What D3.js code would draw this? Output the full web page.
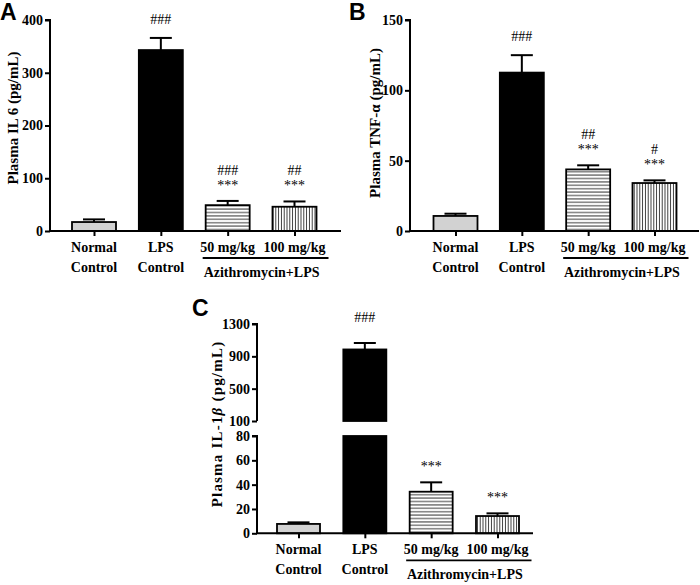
<!DOCTYPE html>
<html><head><meta charset="utf-8">
<script src="https://cdn.jsdelivr.net/npm/d3@7"></script>
<style>
body{margin:0;background:#fff;}
svg{display:block;}
text{font-family:"Liberation Serif","Times New Roman",serif;font-weight:bold;fill:#000;}
.letter{font-family:"Liberation Sans",Arial,sans-serif;font-weight:bold;font-size:23px;}
</style></head>
<body>
<script>
// ---- data ----
const categories = ["Normal Control", "LPS Control", "50 mg/kg", "100 mg/kg"];
const catLines = [["Normal", "Control"], ["LPS", "Control"], ["50 mg/kg"], ["100 mg/kg"]];
const groupLabel = "Azithromycin+LPS";
const fills = ["gray", "black", "hlines", "vlines"];

const il6Values = [17, 343, 49, 46];
const il6Errors = [5, 23, 8, 10];
const il6Ticks = [0, 100, 200, 300, 400];
const il6Hash = ["", "###", "###", "##"];
const il6Stars = ["", "", "***", "***"];

const tnfValues = [10.7, 112.6, 43.8, 34.1];
const tnfErrors = [1.6, 12.4, 2.9, 1.9];
const tnfTicks = [0, 50, 100, 150];
const tnfHash = ["", "###", "##", "#"];
const tnfStars = ["", "", "***", "***"];

const il1bValues = [7.7, 985, 34.2, 14.2];
const il1bErrors = [1.3, 80, 7.7, 2.2];
const il1bTicksLow = [0, 20, 40, 60, 80];
const il1bTicksHigh = [100, 500, 900, 1300];
const il1bHash = ["", "###", "", ""];
const il1bStars = ["", "", "***", "***"];

const svg = d3.select("body").append("svg").attr("width", 700).attr("height", 585);
const defs = svg.append("defs");
const ph = defs.append("pattern").attr("id", "hlines").attr("patternUnits", "userSpaceOnUse")
  .attr("width", 8).attr("height", 3.4);
ph.append("rect").attr("width", 8).attr("height", 3.4).attr("fill", "#fff");
ph.append("line").attr("x1", 0).attr("x2", 8).attr("y1", 1.7).attr("y2", 1.7).attr("stroke", "#222").attr("stroke-width", 0.9);
const pv = defs.append("pattern").attr("id", "vlines").attr("patternUnits", "userSpaceOnUse")
  .attr("width", 2.8).attr("height", 8);
pv.append("rect").attr("width", 2.8).attr("height", 8).attr("fill", "#fff");
pv.append("line").attr("y1", 0).attr("y2", 8).attr("x1", 1.4).attr("x2", 1.4).attr("stroke", "#222").attr("stroke-width", 0.9);

function fillOf(k) {
  if (k === "gray") return "#d2d2d2";
  if (k === "black") return "#000";
  return "url(#" + k + ")";
}

function drawPanel(cfg) {
  const g = svg.append("g");
  const x = d3.scalePoint().domain(categories).range(cfg.xr);
  const bw = cfg.bw;
  cfg.segments.forEach(seg => {
    const ax = d3.axisLeft(seg.y).tickValues(seg.ticks).tickSize(5).tickPadding(2).tickFormat(d3.format("d"));
    const a = g.append("g").attr("transform", `translate(${cfg.ax},0)`).call(ax);
    a.select(".domain").attr("stroke-width", 2).attr("d", `M-5,${seg.y.range()[1]}H0V${seg.y.range()[0]}`);
    a.selectAll(".tick line").attr("stroke-width", 2);
    a.selectAll("text").style("font-size", "14px").style("font-family", "Liberation Serif").style("font-weight", "bold");
  });
  const y0 = cfg.segments[0].y(0);
  categories.forEach((c, i) => {
    const v = cfg.values[i];
    const cx = x(c);
    const segs = cfg.segments.filter(s => v > s.y.domain()[0]);
    let topY = null;
    segs.forEach(s => {
      const d = s.y.domain();
      const lo = d[0], hi = Math.min(v, d[1]);
      const yt = s.y(hi), yb = s.y(lo);
      g.append("rect").attr("x", cx - bw / 2).attr("y", yt).attr("width", bw).attr("height", yb - yt)
        .attr("fill", fillOf(fills[i])).attr("stroke", "#000").attr("stroke-width", 1.8);
      if (v <= d[1]) topY = s;
    });
    const sy = topY.y;
    const e = v + cfg.errors[i];
    g.append("line").attr("x1", cx).attr("x2", cx).attr("y1", sy(v)).attr("y2", sy(e)).attr("stroke", "#000").attr("stroke-width", 2);
    g.append("line").attr("x1", cx - 11).attr("x2", cx + 11).attr("y1", sy(e)).attr("y2", sy(e)).attr("stroke", "#000").attr("stroke-width", 2);
    const ey = sy(e);
    if (cfg.stars[i]) {
      g.append("text").attr("x", cx).attr("y", ey - 11).attr("text-anchor", "middle").style("font-size", "14px").style("font-weight", "normal").text(cfg.stars[i]);
      if (cfg.hash[i]) g.append("text").attr("x", cx).attr("y", ey - 26).attr("text-anchor", "middle").style("font-size", "14px").style("font-weight", "normal").text(cfg.hash[i]);
    } else if (cfg.hash[i]) {
      g.append("text").attr("x", cx).attr("y", ey - 14 - (cfg.hashExtra || 0)).attr("text-anchor", "middle").style("font-size", "14px").style("font-weight", "normal").text(cfg.hash[i]);
    }
  });
  const xa = d3.axisBottom(x).tickSize(5).tickFormat("");
  const xg = g.append("g").attr("transform", `translate(0,${y0})`).call(xa);
  xg.select(".domain").attr("stroke-width", 2).attr("d", `M${cfg.ax - 1},0H${cfg.xend}`);
  xg.selectAll(".tick line").attr("stroke-width", 2);
  categories.forEach((c, i) => {
    catLines[i].forEach((t, j) => {
      g.append("text").attr("x", x(c)).attr("y", y0 + 21 + j * 20).attr("text-anchor", "middle")
        .style("font-size", "14px").text(t);
    });
  });
  const lx1 = x(categories[2]) - 25, lx2 = x(categories[3]) + 34;
  g.append("line").attr("x1", lx1).attr("x2", lx2).attr("y1", y0 + 27).attr("y2", y0 + 27).attr("stroke", "#000").attr("stroke-width", 1.8);
  g.append("text").attr("x", (lx1 + lx2) / 2 - 4).attr("y", y0 + 46).attr("text-anchor", "middle").style("font-size", "14px").text(groupLabel);
  const yl = g.append("text").attr("transform", `translate(${cfg.ylx},${cfg.yly}) rotate(-90)`).attr("text-anchor", "middle")
    .style("font-size", "15px").style("letter-spacing", (cfg.ls || 0) + "px");
  cfg.ylabel(yl);
  g.append("text").attr("class", "letter").attr("x", cfg.lx).attr("y", cfg.ly).text(cfg.letter);
}

drawPanel({
  letter: "A", lx: 0, ly: 20,
  ax: 50, xend: 341, xr: [94, 294.5], bw: 44,
  segments: [{ y: d3.scaleLinear().domain([0, 400]).range([231, 20]), ticks: il6Ticks }],
  values: il6Values, errors: il6Errors, hash: il6Hash, stars: il6Stars,
  ylx: 18, yly: 118,
  ylabel: t => t.text("Plasma IL 6 (pg/mL)")
});
drawPanel({
  letter: "B", lx: 349, ly: 20,
  ax: 410, xend: 699, xr: [455.5, 654.5], bw: 44,
  segments: [{ y: d3.scaleLinear().domain([0, 150]).range([231, 20]), ticks: tnfTicks }],
  values: tnfValues, errors: tnfErrors, hash: tnfHash, stars: tnfStars,
  ylx: 380, yly: 123,
  ylabel: t => t.text("Plasma TNF-α (pg/mL)")
});
drawPanel({
  letter: "C", lx: 192, ly: 316,
  ax: 257, xend: 533, xr: [298.5, 497.5], bw: 43, hashExtra: 7, ls: 1.2,
  segments: [
    { y: d3.scaleLinear().domain([0, 80]).range([533.3, 436]), ticks: il1bTicksLow },
    { y: d3.scaleLinear().domain([100, 1300]).range([421, 324]), ticks: il1bTicksHigh }
  ],
  values: il1bValues, errors: il1bErrors, hash: il1bHash, stars: il1bStars,
  ylx: 222, yly: 424,
  ylabel: t => {
    t.append("tspan").text("Plasma IL-1");
    t.append("tspan").style("font-style", "italic").text("β");
    t.append("tspan").text(" (pg/mL)");
  }
});
</script>
</body></html>
